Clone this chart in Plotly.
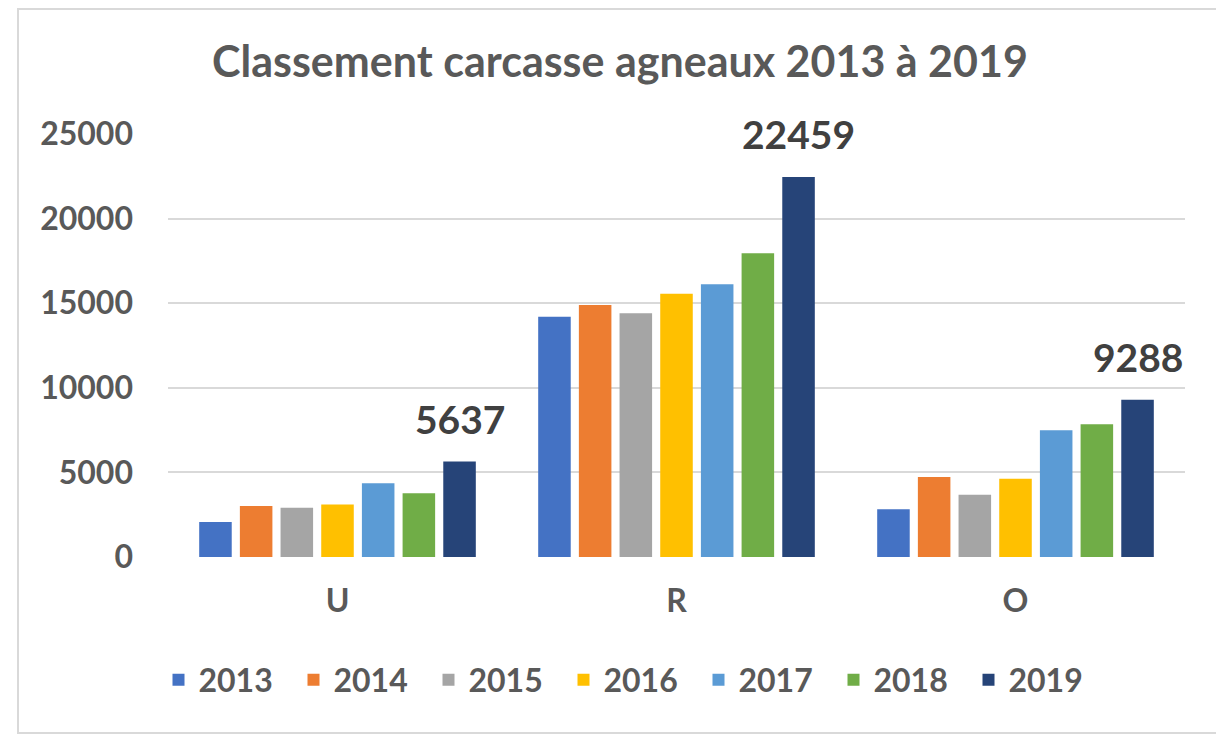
import plotly.graph_objects as go

categories = ['U', 'R', 'O']
years = ['2013', '2014', '2015', '2016', '2017', '2018', '2019']
values = {
    '2013': [2070, 14200, 2820],
    '2014': [3010, 14890, 4730],
    '2015': [2910, 14400, 3680],
    '2016': [3110, 15560, 4630],
    '2017': [4360, 16120, 7490],
    '2018': [3770, 17950, 7840],
    '2019': [5637, 22459, 9288],
}
colors = ['#4472C4', '#ED7D31', '#A5A5A5', '#FFC000', '#5B9BD5', '#70AD47', '#264478']
y_ticks = [0, 5000, 10000, 15000, 20000, 25000]
y_ticktext = [str(v) for v in y_ticks]

FONT = 'Lato'
GRIS = '#595959'
OFF = 8  # marge du body html

# zone de trace (px dans la fenetre)
L, R, T, B = 168, 1185, 134, 557
W, H = R - L, B - T

fig = go.Figure()
for yr, col in zip(years, colors):
    fig.add_trace(go.Bar(x=categories, y=values[yr], name=yr, marker_color=col,
                         marker_line_width=0))

# etiquettes seulement sur 2019
for cat, val in zip(categories, values['2019']):
    fig.add_annotation(x=cat, y=val, xref='x', yref='y', text='<b>%d</b>' % val,
                       showarrow=False, xshift=122, yshift=18, yanchor='bottom',
                       font=dict(family=FONT, size=39, color='#404040'))

# cadre du graphique
fig.add_shape(type='rect', xref='paper', yref='paper',
              x0=(18 - L) / W, x1=(1220 - L) / W,
              y0=(B - 733) / H, y1=(B - 9) / H,
              line=dict(color='#D9D9D9', width=2), fillcolor='rgba(0,0,0,0)', layer='below')

fig.update_layout(
    width=1224, height=739,
    margin=dict(l=L - OFF, r=1224 - R + OFF, t=T - OFF, b=739 - B + OFF),
    paper_bgcolor='white', plot_bgcolor='white',
    barmode='group', bargap=0.16, bargroupgap=0.2,
    title=dict(text='<b>Classement carcasse agneaux 2013 à 2019</b>',
               x=(620 - OFF) / 1224, xanchor='center', y=1 - (62 - OFF) / 739, yanchor='middle',
               font=dict(family=FONT, size=43, color=GRIS)),
    font=dict(family=FONT, color=GRIS),
    legend=dict(orientation='h', x=(631 - L) / W, xanchor='center', y=(B - 680) / H, yanchor='middle',
                font=dict(family=FONT, size=32, color=GRIS, weight='bold'),
                entrywidth=90, entrywidthmode='pixels', traceorder='normal'),
    showlegend=True,
)
fig.update_yaxes(range=[0, 25000], tickvals=y_ticks, ticktext=y_ticktext, showgrid=True,
                 gridcolor='#D9D9D9', gridwidth=2, zeroline=False, showline=False,
                 tickfont=dict(family=FONT, size=32, color=GRIS, weight='bold'),
                 ticklabelstandoff=34)
fig.update_xaxes(showgrid=False, showline=False, zeroline=False,
                 tickfont=dict(family=FONT, size=32, color=GRIS, weight='bold'),
                 ticklabelstandoff=22)

fig.write_html('out.html')
